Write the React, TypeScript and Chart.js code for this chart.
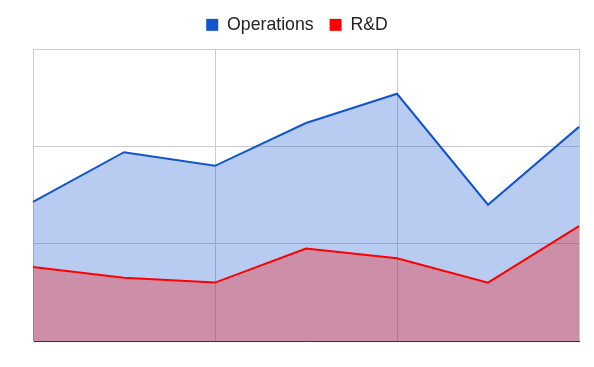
import React, { useEffect, useRef } from "react";
import { Chart, registerables } from "chart.js";

Chart.register(...registerables);

const categories = ["P1", "P2", "P3", "P4", "P5", "P6", "P7"];
const operations = [14.3, 19.4, 18.0, 22.4, 25.4, 14.0, 22.0];
const rnd = [7.6, 6.5, 6.0, 9.5, 8.5, 6.0, 11.8];
const yTicks = [0, 10, 20, 30];

const legendGap = {
  id: "legendGap",
  beforeInit(chart: any) {
    const legend = chart.legend;
    if (!legend) return;
    const origFit = legend.fit;
    legend.fit = function fit() {
      origFit.bind(legend)();
      this.height = Math.round(this.height + 5);
    };
  },
};

export default function App() {
  const ref = useRef<HTMLCanvasElement | null>(null);
  useEffect(() => {
    if (!ref.current) return;
    const chart = new Chart(ref.current, {
      type: "line",
      data: {
        labels: categories,
        datasets: [
          {
            label: "Operations",
            data: operations,
            borderColor: "#1155cc",
            backgroundColor: "rgba(17,85,204,0.3)",
            fill: "origin",
            borderWidth: 2,
            pointRadius: 0,
            tension: 0,
            order: 1,
          },
          {
            label: "R&D",
            data: rnd,
            borderColor: "#ff0000",
            backgroundColor: "rgba(255,0,0,0.3)",
            fill: "origin",
            borderWidth: 2,
            pointRadius: 0,
            tension: 0,
            order: 0,
          },
        ],
      },
      plugins: [legendGap],
      options: {
        responsive: false,
        animation: false,
        layout: { padding: 0 },
        plugins: {
          tooltip: { enabled: false },
          legend: {
            position: "top",
            reverse: true,
            labels: {
              boxWidth: 12,
              boxHeight: 12,
              padding: 16,
              color: "#222222",
              font: { family: "Liberation Sans, Arial, sans-serif", size: 17.7 },
              generateLabels: (c: any) => {
                const items = Chart.defaults.plugins.legend.labels.generateLabels(c);
                return items.map((it: any) => ({
                  ...it,
                  fillStyle: it.strokeStyle,
                  lineWidth: 0,
                }));
              },
            },
          },
        },
        scales: {
          x: {
            offset: false,
            ticks: { display: false },
            afterFit: (axis: any) => {
              axis.height = 26;
            },
            grid: {
              drawTicks: false,
              color: (ctx: any) => (ctx.index % 2 === 0 ? "#cccccc" : "rgba(0,0,0,0)"),
              lineWidth: 1,
            },
            border: { display: true, color: "#333333", width: 1 },
          },
          y: {
            min: yTicks[0],
            max: yTicks[yTicks.length - 1],
            afterBuildTicks: (axis: any) => {
              axis.ticks = yTicks.map((v) => ({ value: v }));
            },
            afterFit: (axis: any) => {
              axis.width = 33;
            },
            ticks: { display: false },
            grid: { drawTicks: false, color: "#cccccc", lineWidth: 1 },
            border: { display: true, color: "#cccccc", width: 1 },
          },
          yRight: {
            position: "right",
            min: yTicks[0],
            max: yTicks[yTicks.length - 1],
            afterFit: (axis: any) => {
              axis.width = 15;
            },
            ticks: { display: false },
            grid: { display: false, drawTicks: false },
            border: { display: false },
          },
        },
      },
    });
    return () => chart.destroy();
  }, []);
  return (
    <canvas
      ref={ref}
      width={594}
      height={367}
      style={{ position: "absolute", left: 0, top: 0, display: "block" }}
    />
  );
}
